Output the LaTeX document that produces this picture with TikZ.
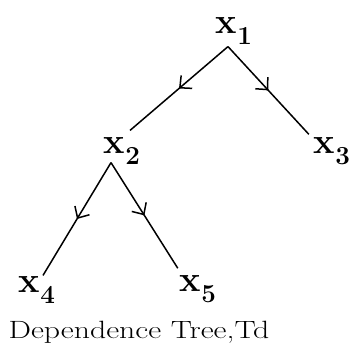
\documentclass[tikz,border=0pt]{standalone}
\usepackage{tikz}
\usetikzlibrary{positioning,arrows.meta,decorations.markings}
\newcommand{\xvar}[1]{x\raisebox{-.3em}{\fontsize{26}{28}\selectfont#1}}

\begin{document}
\begin{tikzpicture}[x=1pt,y=-1pt,
    var/.style={font=\fontsize{36}{38}\selectfont\bfseries, inner sep=1pt},
    edge/.style={line width=1.5pt, postaction={decorate},
      decoration={markings,
        mark=at position 0.5 with {\arrow{Straight Barb[length=9pt,width=17pt,line width=1.5pt]}}}}]
  \useasboundingbox (0,0) rectangle (352,354);
  % variables of the tree
  \node[var] (x1) at (234,31) {\xvar{1}};
  \node[var] (x2) at (122,151) {\xvar{2}};
  \node[var] (x3) at (332,151) {\xvar{3}};
  \node[var] (x4) at (37,290) {\xvar{4}};
  \node[var] (x5) at (198,289) {\xvar{5}};
  % dependence edges
  \draw[edge] ([shift={(-6,1)}]x1.south) -- ([shift={(8,-6)}]x2.north);
  \draw[edge] ([shift={(-6,1)}]x1.south) -- ([shift={(-4,-2)}]x3.north west);
  \draw[edge] ([shift={(-11,-3)}]x2.south) -- ([shift={(6,0)}]x4.north);
  \draw[edge] ([shift={(-11,-3)}]x2.south) -- ([shift={(-1,-6)}]x5.north west);
  % caption
  \node[font=\fontsize{25}{27}\selectfont, xscale=1.27] (cap) at (139,332) {Dependence Tree,Td};
\end{tikzpicture}
\end{document}
